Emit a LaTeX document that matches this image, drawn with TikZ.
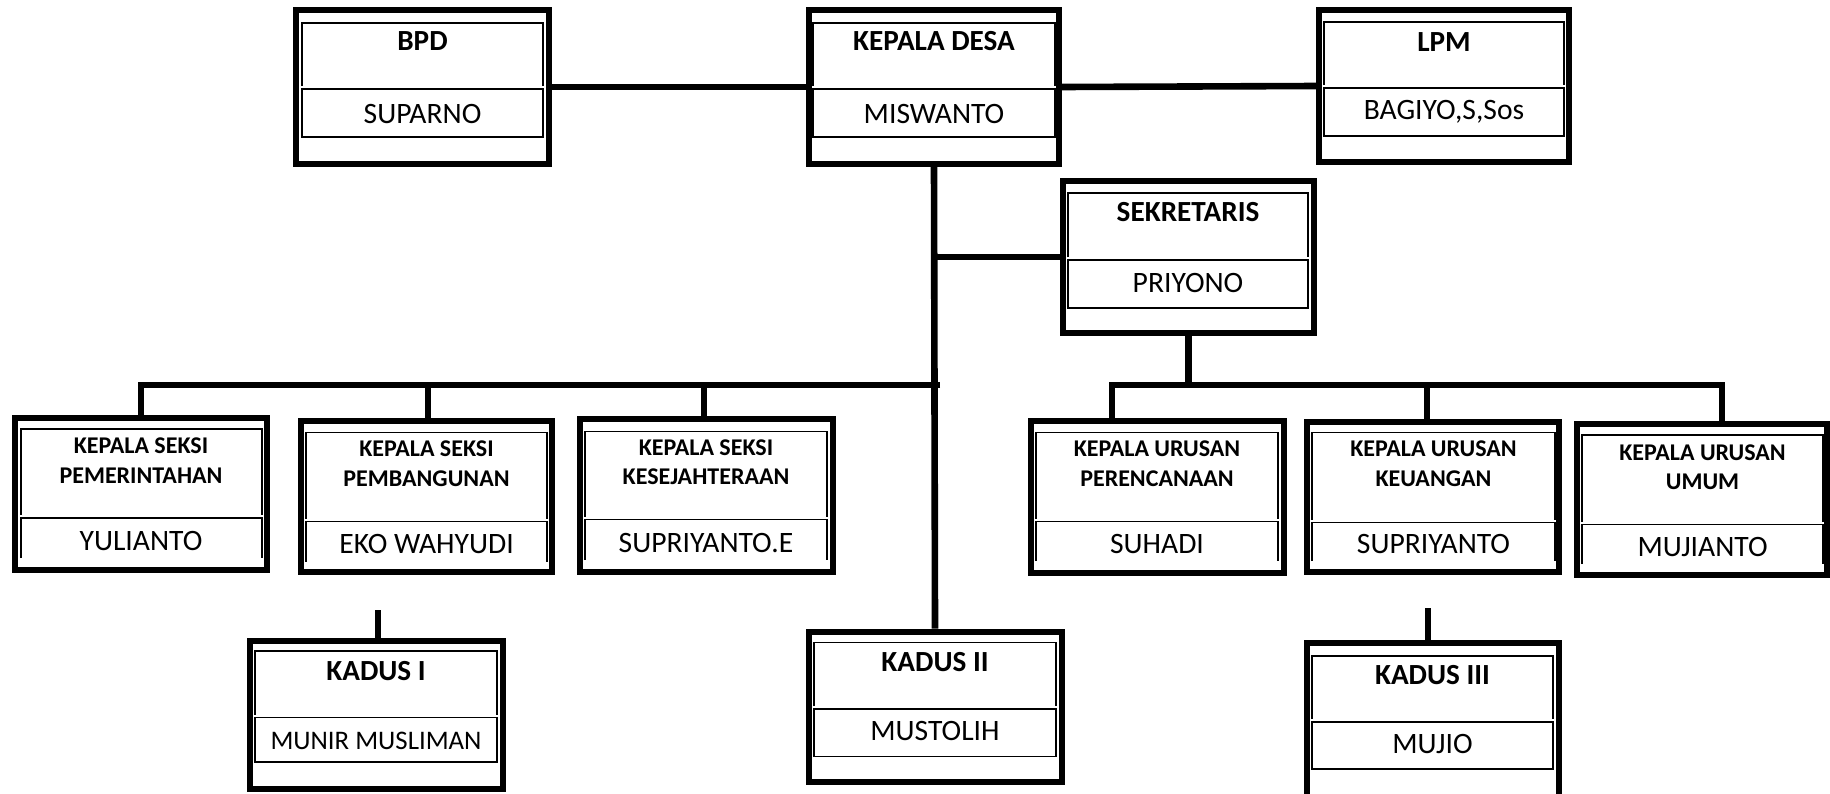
\documentclass[tikz,border=0pt]{standalone}
\usepackage{fontspec}
\setmainfont{Carlito}
\usetikzlibrary{fit}
\newcommand\innerfull[5]{%
  \draw[thinln] (#1,#4-3) -- (#1,#3) -- (#2,#3) -- (#2,#4-3);
  \draw[thinln] (#1,#4) rectangle (#2,#5);}
\newcommand\inneropen[5]{%
  \draw[thinln] (#1,#4-3) -- (#1,#3) -- (#2,#3) -- (#2,#4-3);
  \draw[thinln] (#1,#5) -- (#1,#4) -- (#2,#4) -- (#2,#5);}
\begin{document}
\begin{tikzpicture}[x=0.5pt,y=-0.5pt,
  obox/.style={draw=black, line width=3pt, inner sep=0pt},
  thinln/.style={draw=black, line width=0.8pt},
  conn/.style={draw=black, line width=3.3pt},
  ttl/.style={font=\bfseries\fontsize{14.6}{17}\selectfont, anchor=base, inner sep=0pt},
  sttl/.style={font=\bfseries\fontsize{12}{14}\selectfont, anchor=base, inner sep=0pt},
  nm/.style={font=\fontsize{14.8}{17}\selectfont, anchor=base, inner sep=0pt},
]
\fill[white] (0,0) rectangle (1830,793);
\clip (0,0) rectangle (1830,793);

% ---------- top row ----------
\node[obox, fit={(296,10) (549,164)}] (bpd) {};
\innerfull{302}{543}{23}{89}{137}
\node[ttl] (bpdT) at (422.5,50) {BPD};
\node[nm] (bpdN) at (422.5,123) {SUPARNO};

\node[obox, fit={(809,10) (1059,164)}] (kd) {};
\innerfull{813}{1055}{23}{89}{137}
\node[ttl] (kdT) at (934,50) {KEPALA DESA};
\node[nm] (kdN) at (934,123) {MISWANTO};

\node[obox, fit={(1319,10) (1569,162)}] (lpm) {};
\innerfull{1324}{1564}{22}{88}{136}
\node[ttl] (lpmT) at (1444,51) {LPM};
\node[nm] (lpmN) at (1444,119.5) {BAGIYO,S,Sos};

\node[obox, fit={(1063,181) (1314,333)}] (sek) {};
\innerfull{1068}{1308}{193}{260}{308}
\node[ttl] (sekT) at (1188,221.5) {SEKRETARIS};
\node[nm] (sekN) at (1188,292) {PRIYONO};

% ---------- kepala seksi ----------
\node[obox, fit={(15,418) (267,570)}] (s1) {};
\inneropen{21}{262}{429}{518}{558}
\node[sttl] (s1a) at (141,453) {KEPALA SEKSI};
\node[sttl] (s1b) at (141,483) {PEMERINTAHAN};
\node[nm] (s1N) at (141,550) {YULIANTO};

\node[obox, fit={(301,421) (552,572)}] (s2) {};
\inneropen{306}{547}{432.5}{521.5}{561.5}
\node[sttl] (s2a) at (426.5,456) {KEPALA SEKSI};
\node[sttl] (s2b) at (426.5,486) {PEMBANGUNAN};
\node[nm] (s2N) at (426.5,553) {EKO WAHYUDI};

\node[obox, fit={(580,419) (833,572)}] (s3) {};
\inneropen{585}{827}{431.5}{519.5}{560}
\node[sttl] (s3a) at (706,455) {KEPALA SEKSI};
\node[sttl] (s3b) at (706,484) {KESEJAHTERAAN};
\node[nm] (s3N) at (706,552) {SUPRIYANTO.E};

% ---------- kepala urusan ----------
\node[obox, fit={(1031,420.5) (1284,572.5)}] (r1) {};
\inneropen{1036}{1278}{432.5}{521.5}{561}
\node[sttl] (r1a) at (1157,456) {KEPALA URUSAN};
\node[sttl] (r1b) at (1157,486) {PERENCANAAN};
\node[nm] (r1N) at (1157,553) {SUHADI};

\node[obox, fit={(1307,421.5) (1559,572)}] (r2) {};
\inneropen{1312}{1555}{432.5}{522.5}{561}
\node[sttl] (r2a) at (1433.5,456) {KEPALA URUSAN};
\node[sttl] (r2b) at (1433.5,486) {KEUANGAN};
\node[nm] (r2N) at (1433.5,553) {SUPRIYANTO};

\node[obox, fit={(1577,424) (1826.5,575)}] (r3) {};
\inneropen{1582}{1823}{435}{524.5}{564}
\node[sttl] (r3a) at (1702.5,460) {KEPALA URUSAN};
\node[sttl] (r3b) at (1702.5,489) {UMUM};
\node[nm] (r3N) at (1702.5,556) {MUJIANTO};

% ---------- kadus ----------
\node[obox, fit={(250,641) (503,789)}] (k1) {};
\innerfull{255}{497}{651}{717.5}{762}
\node[ttl] (k1T) at (376,680.5) {KADUS I};
\node[nm, font=\fontsize{13.4}{16}\selectfont] (k1N) at (376,749) {MUNIR MUSLIMAN};

\node[obox, fit={(808.5,631.5) (1061.5,781.5)}] (k2) {};
\innerfull{814}{1056}{642.5}{709}{756.5}
\node[ttl] (k2T) at (935,671) {KADUS II};
\node[nm] (k2N) at (935,740) {MUSTOLIH};

\node[obox, fit={(1307,643) (1559,805)}] (k3) {};
\innerfull{1312}{1553}{656}{722}{769}
\node[ttl] (k3T) at (1432.5,684) {KADUS III};
\node[nm] (k3N) at (1432.5,753) {MUJIO};

% ---------- connectors ----------
\draw[conn] (bpd.east) -- (kd.west);
\draw[conn] (kd.east) -- (lpm.west);
\draw[conn] (kd.south) -- (k2.north);
\coordinate (jsek) at (kd.south |- sek.west);
\draw[conn] (jsek) -- (sek.west);

\coordinate (lbarL) at (141,385);
\coordinate (lbarR) at (940,385);
\coordinate (ldrop2) at (428,385);
\coordinate (ldrop3) at (704,385);
\draw[conn] (lbarR) -- (lbarL) -- (lbarL |- s1.north);
\draw[conn] (ldrop2) -- (ldrop2 |- s2.north);
\draw[conn] (ldrop3) -- (ldrop3 |- s3.north);

\coordinate (rbarL) at (1112,385);
\coordinate (rbarR) at (1722,385);
\coordinate (rdrop) at (1427,385);
\draw[conn] (sek.south) -- (sek.south |- rbarL);
\draw[conn] (rbarL |- r1.north) -- (rbarL) -- (rbarR) -- (rbarR |- r3.north);
\draw[conn] (rdrop) -- (rdrop |- r2.north);

\coordinate (k1stub) at (378,610);
\draw[conn] (k1stub) -- (k1stub |- k1.north);
\coordinate (k3stub) at (1428,608);
\draw[conn] (k3stub) -- (k3stub |- k3.north);
\end{tikzpicture}
\end{document}
